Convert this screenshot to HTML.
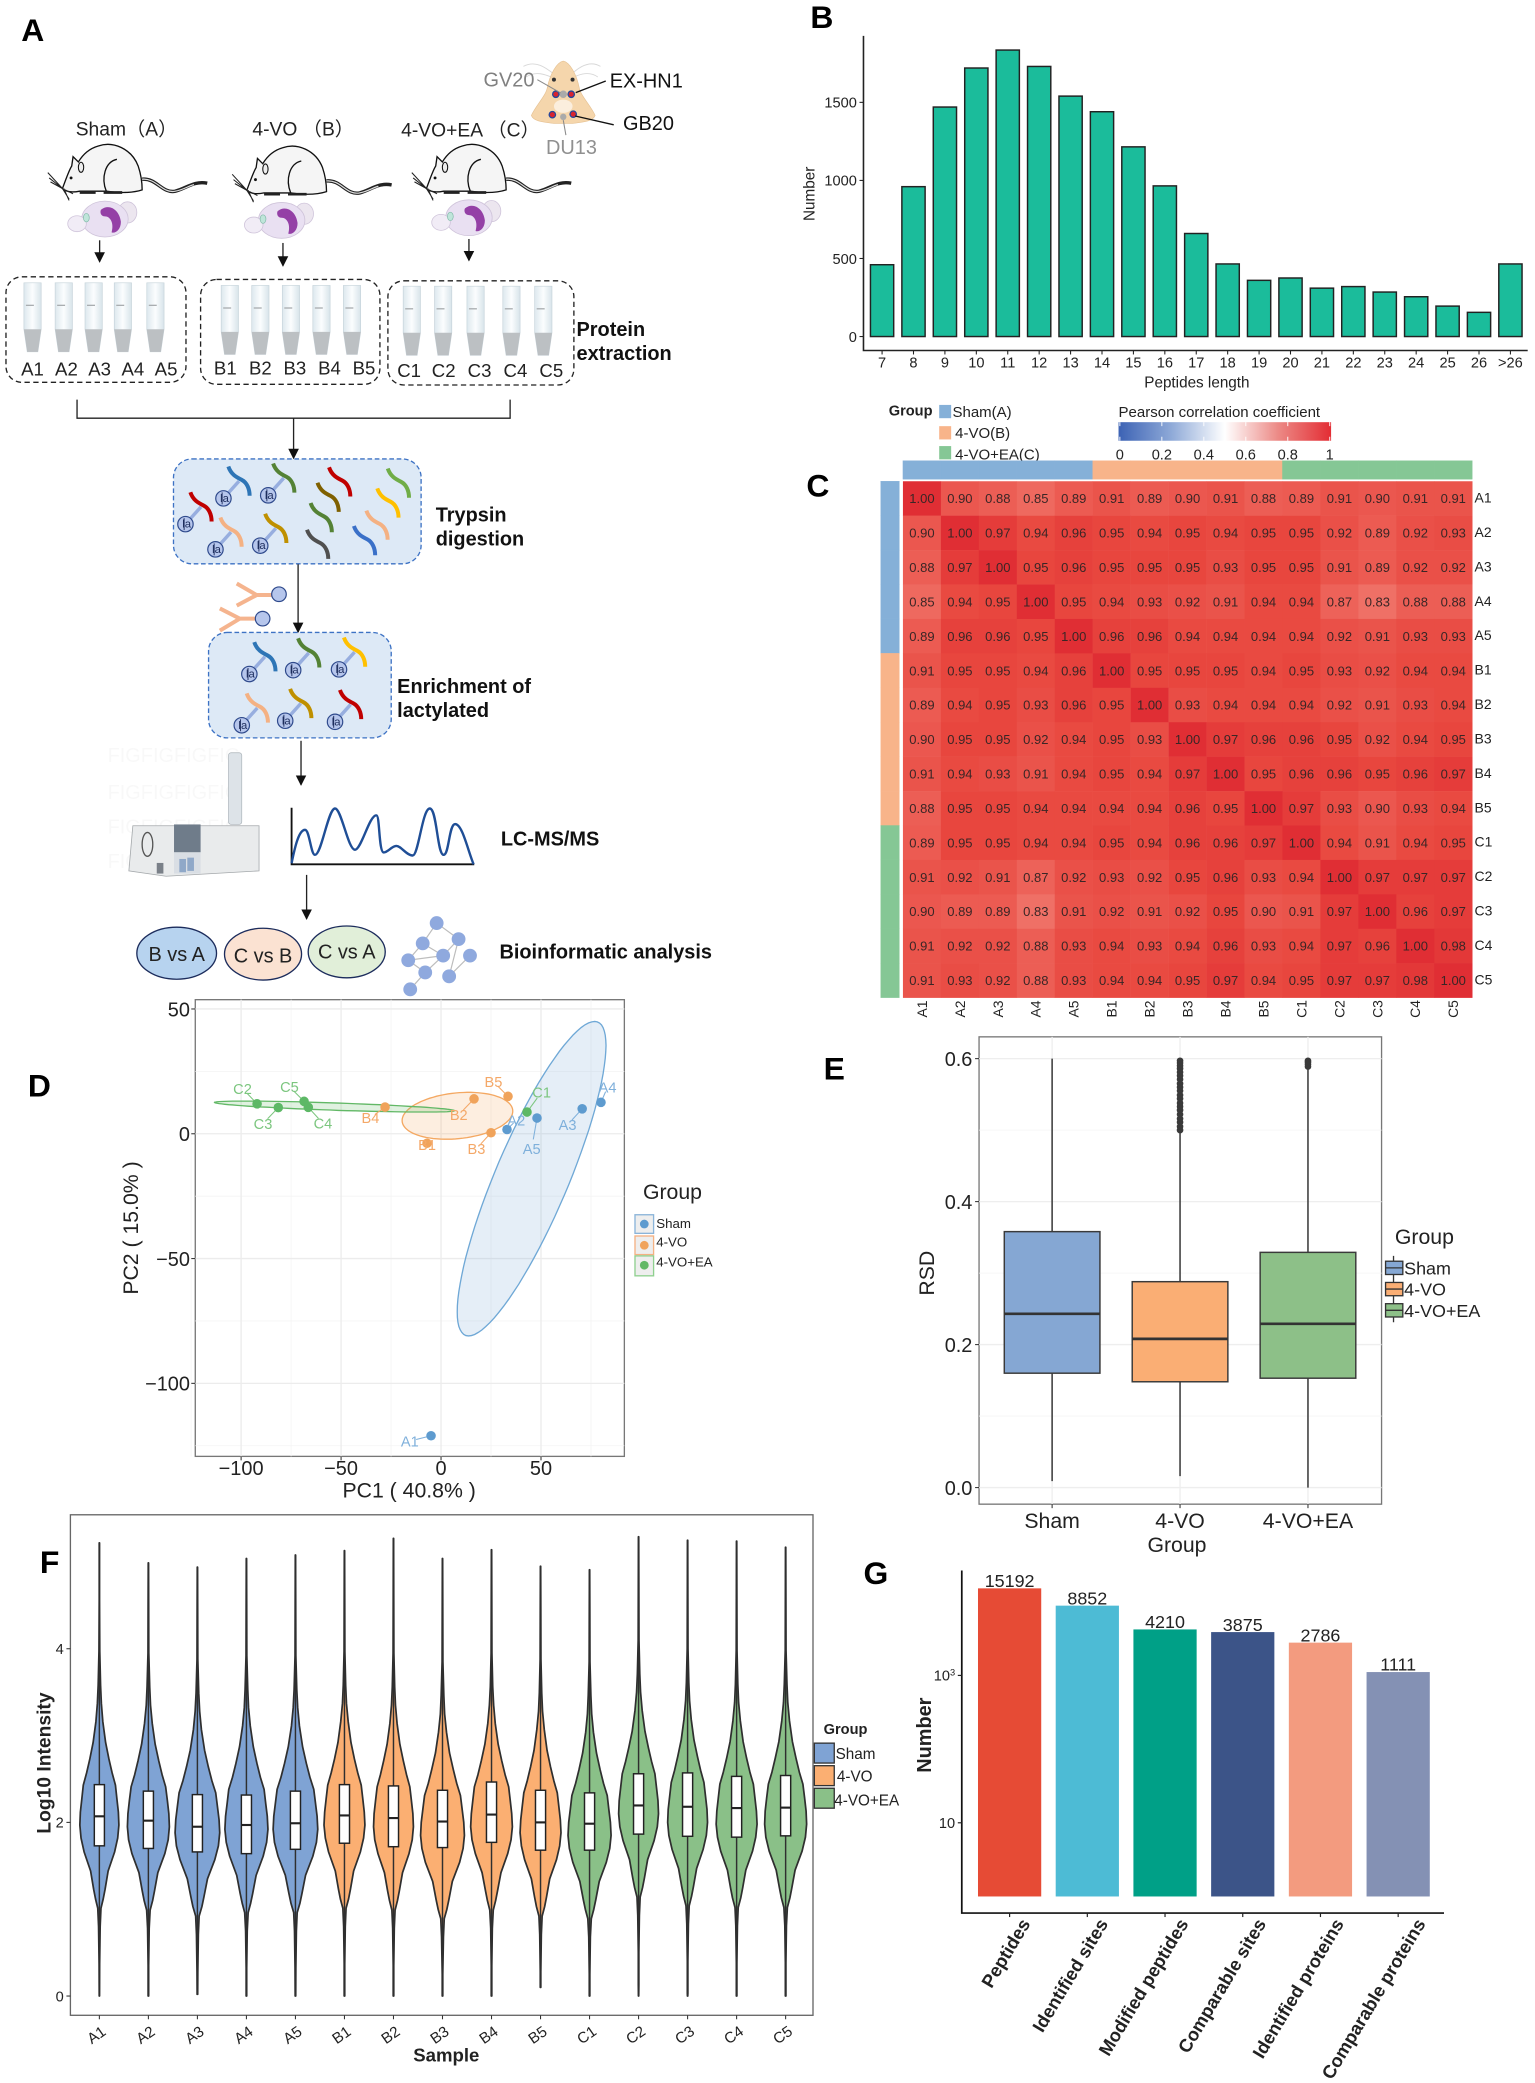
<!DOCTYPE html>
<html lang="en">
<head>
<meta charset="utf-8">
<title>Lactylated proteomics workflow and quality control figure</title>
<style>
html,body{margin:0;padding:0;background:#fff}
svg{display:block}
text{font-family:"Liberation Sans","Noto Sans CJK SC",sans-serif;fill:#222}
.plab{font-size:24px;font-weight:bold;fill:#000}
.step{font-size:15px;font-weight:bold;fill:#111}
.hdr{font-size:14.5px;fill:#222}
.tube-l{font-size:14px;text-anchor:middle;fill:#222}
.dash{fill:none;stroke:#222;stroke-width:1;stroke-dasharray:4 2.6}
.flow{stroke:#222;stroke-width:1;fill:none;marker-end:url(#arrowhead)}
.la{font-size:8.5px;text-anchor:middle;fill:#1c2c5c}
.pc{fill:#B6C6EC;stroke:#2F4A8C;stroke-width:.9}
</style>
</head>
<body>
<svg id="figure" xmlns="http://www.w3.org/2000/svg" width="1535" height="2083" viewBox="0 0 1155.5 1569" preserveAspectRatio="none">
<defs>
<marker id="arrowhead" markerUnits="userSpaceOnUse" markerWidth="9" markerHeight="11" refX="7" refY="5" orient="auto"><path d="M0 1 L8 5 L0 9 Z" fill="#111"/></marker>
<linearGradient id="tubeFill" x1="0" x2="1" y1="0" y2="0"><stop offset="0" stop-color="#dde8ee"/><stop offset=".5" stop-color="#fbfdfe"/><stop offset="1" stop-color="#d8e4ea"/></linearGradient>
<linearGradient id="pearsonGrad" x1="0" x2="1" y1="0" y2="0"><stop offset="0" stop-color="#3C62B4"/><stop offset=".25" stop-color="#8FAAD8"/><stop offset=".5" stop-color="#ffffff"/><stop offset=".75" stop-color="#EC8A86"/><stop offset="1" stop-color="#E32D34"/></linearGradient>
<g id="tube"><path d="M-6.500 0 L6.500 0 L6.500 35 L4 52 L-4 52 L-6.500 35 Z" fill="url(#tubeFill)" stroke="#c6d3da" stroke-width=".5"/><path d="M-6.500 35 L6.500 35 L4 52 L-4 52 Z" fill="#bcc0c3"/><path d="M-5 17 L1 17" stroke="#a9adb0" stroke-width="1"/></g>
<g id="rat">
<path d="M107 135 C118 134,122 146,132 144 C140 142,146 136,156 138" fill="none" stroke="#222" stroke-width="2.600"/>
<path d="M107 135 C118 134,122 146,132 144 C138 143,142 140,146 139" fill="none" stroke="#ddd" stroke-width=".9"/>
<path d="M47 142 C50 134,52 128,54 125 L55 118 L59 122 C62 117,67 112,74 110 C85 106,99 112,104 125 C106 131,107 138,107 143 C98 146,86 145,80 144 L60 144 C55 145,50 145,47 142 Z" fill="#f5f5f5" stroke="#111" stroke-width="1"/>
<path d="M80 144 C76 134,79 122,88 120" fill="none" stroke="#111" stroke-width="1"/>
<ellipse cx="61" cy="126" rx="2" ry="3.800" fill="#ededed" stroke="#111" stroke-width=".8"/>
<circle cx="53.500" cy="134" r="1.100" fill="#111"/>
<path d="M60 145 L72 145 M78 145 L92 145" stroke="#222" stroke-width="2"/>
<path d="M47 142 L36 130 M47 142 L37 134 M47 142 L38 137 M47 142 L52 150 M48 142 L52 151 M49 143 L55 146" stroke="#222" stroke-width=".8"/>
</g>
<g id="brain">
<ellipse cx="96" cy="160" rx="7" ry="8" fill="#ece6ef" stroke="#cfc4da" stroke-width=".6"/>
<ellipse cx="79" cy="165" rx="17.500" ry="13.500" fill="#e9e0f2" stroke="#cfc4da" stroke-width=".6"/>
<ellipse cx="58" cy="168.500" rx="7" ry="6" fill="#f1ecf6" stroke="#cfc4da" stroke-width=".6"/>
<path d="M76 158 C82 153,90 158,91 167 C91 173,87 176,84 175 C86 168,83 163,79 163 C76 163,75 160,76 158 Z" fill="#9440A6"/>
<ellipse cx="65" cy="164" rx="2.200" ry="3.200" fill="#bfe5da" stroke="#7fb9a7" stroke-width=".5"/>
</g>
<g id="pep"><path d="M0 0 C2 6,6 8,10 10 C14 12,16 17,16 22" fill="none" stroke="currentColor" stroke-width="3" stroke-linecap="butt"/></g>
<g id="pepla"><path d="M8 11 L-3.700 24" stroke="#97AEDF" stroke-width="2.600"/><use href="#pep"/><circle class="pc" cx="-3.700" cy="24" r="5.800"/><path d="M-4.700 19.500 L-4.700 28.500" stroke="#1c2c5c" stroke-width=".7"/></g>
</defs>
<rect x="0" y="0" width="1158" height="1572" fill="#fff"/>

<g id="panel-a">
<text class="plab" x="16" y="31">A</text>
<text class="hdr" x="57" y="102">Sham（A）</text>
<text class="hdr" x="190" y="102">4-VO （B）</text>
<text class="hdr" x="302" y="103">4-VO+EA （C）</text>

<g>
<path d="M394 50 C405 44,414 54,420 58 M452 50 C442 44,432 54,428 58 M396 58 C405 52,414 58,420 60 M450 58 C442 52,432 58,428 60" fill="none" stroke="#d8d8d8" stroke-width=".7"/>
<path d="M424 46 C429 47,434 56,436 66 C437 72,445 80,448 87 C446 92,437 92,431 93 L417 93 C411 92,402 92,400 87 C403 80,411 72,412 66 C414 56,419 47,424 46 Z" fill="#F5D6AC" stroke="#e6c294" stroke-width=".5"/>
<ellipse cx="424" cy="80" rx="7" ry="5" fill="#fbeedd"/>
<circle cx="417" cy="60" r="1.500" fill="#333"/><circle cx="431" cy="60" r="1.500" fill="#333"/>
<circle cx="424" cy="71" r="2.800" fill="#aaa"/><circle cx="424" cy="88" r="2.400" fill="#aaa"/>
<circle cx="418.400" cy="71" r="2.400" fill="#D9232E" stroke="#24479c" stroke-width="1"/><circle cx="430" cy="71" r="2.400" fill="#D9232E" stroke="#24479c" stroke-width="1"/>
<circle cx="415.800" cy="86.400" r="2.400" fill="#D9232E" stroke="#24479c" stroke-width="1"/><circle cx="431.500" cy="86" r="2.400" fill="#D9232E" stroke="#24479c" stroke-width="1"/>
<path d="M404.500 60 L422 70 M424 90.500 L426 101.800" stroke="#8a8a8a" stroke-width=".8"/>
<path d="M433.400 69.800 L456 61 M433 87.400 L462 94" stroke="#111" stroke-width="1"/>
<text x="364" y="65" font-size="15" style="fill:#808080">GV20</text>
<text x="459" y="66" font-size="15" style="fill:#111">EX-HN1</text>
<text x="469" y="98" font-size="15" style="fill:#111">GB20</text>
<text x="411" y="116" font-size="15" style="fill:#909090">DU13</text>
</g>

<use href="#rat"/>
<use href="#rat" transform="translate(138.800 1.300)"/>
<use href="#rat" transform="translate(274 0)"/>
<use href="#brain"/>
<use href="#brain" transform="translate(133 1)"/>
<use href="#brain" transform="translate(274 -1)"/>
<path class="flow" d="M75 181 V197"/>
<path class="flow" d="M213 183 V200"/>
<path class="flow" d="M353 180 V196"/>

<rect class="dash" x="4.500" y="208.500" width="135.500" height="79.500" rx="12"/>
<rect class="dash" x="151" y="210.500" width="135" height="79" rx="12"/>
<rect class="dash" x="292" y="211.500" width="140" height="78.500" rx="12"/>
<g>
<use href="#tube" x="24.500" y="213"/><use href="#tube" x="48" y="213"/><use href="#tube" x="70.500" y="213"/><use href="#tube" x="92.500" y="213"/><use href="#tube" x="117" y="213"/>
<use href="#tube" x="173" y="215"/><use href="#tube" x="196" y="215"/><use href="#tube" x="219" y="215"/><use href="#tube" x="242" y="215"/><use href="#tube" x="265" y="215"/>
<use href="#tube" x="310" y="215.600"/><use href="#tube" x="333.600" y="215.600"/><use href="#tube" x="358" y="215.600"/><use href="#tube" x="385" y="215.600"/><use href="#tube" x="409" y="215.600"/>
</g>
<g>
<text class="tube-l" x="24.500" y="283">A1</text><text class="tube-l" x="50" y="283">A2</text><text class="tube-l" x="75" y="283">A3</text><text class="tube-l" x="100" y="283">A4</text><text class="tube-l" x="125" y="283">A5</text>
<text class="tube-l" x="169.600" y="282">B1</text><text class="tube-l" x="196" y="282">B2</text><text class="tube-l" x="222" y="282">B3</text><text class="tube-l" x="248" y="282">B4</text><text class="tube-l" x="274" y="282">B5</text>
<text class="tube-l" x="308" y="284">C1</text><text class="tube-l" x="334" y="284">C2</text><text class="tube-l" x="361" y="284">C3</text><text class="tube-l" x="388" y="284">C4</text><text class="tube-l" x="415" y="284">C5</text>
</g>
<text class="step" x="434" y="253">Protein</text>
<text class="step" x="434" y="271">extraction</text>

<path d="M58 301 V315 H384 V301" fill="none" stroke="#222" stroke-width="1"/>
<path class="flow" d="M221 315 V345"/>

<rect x="130.600" y="345.700" width="186.400" height="79" rx="14" fill="#DDE9F6" stroke="#3D72C4" stroke-width="1" stroke-dasharray="3.500 2"/>
<g>
<use href="#pepla" x="143.300" y="370.800" color="#C00000"/><use href="#pepla" x="171.900" y="351.400" color="#2E75B6"/><use href="#pepla" x="205.600" y="349.100" color="#548235"/><use href="#pepla" x="165.900" y="389.800" color="#F4B183"/><use href="#pepla" x="199.600" y="387" color="#BF9000"/>
<use href="#pep" x="247.700" y="352" color="#C00000"/><use href="#pep" x="239" y="363.600" color="#7F6000"/><use href="#pep" x="291.900" y="352.900" color="#70AD47"/><use href="#pep" x="284" y="367.900" color="#FFC000"/><use href="#pep" x="233.800" y="378.900" color="#548235"/><use href="#pep" x="275.800" y="384.600" color="#F4B183"/><use href="#pep" x="231.100" y="399" color="#505050"/><use href="#pep" x="266.400" y="396.200" color="#3A70C8"/>
<text class="la" x="140.500" y="397.500">la</text><text class="la" x="169" y="378">la</text><text class="la" x="202.700" y="375.800">la</text><text class="la" x="163" y="416.500">la</text><text class="la" x="196.700" y="413.700">la</text>
</g>
<text class="step" x="328" y="393">Trypsin</text>
<text class="step" x="328" y="411">digestion</text>

<g>
<path d="M178.200 439.500 L193.200 448.200 L178.200 456.200 M193.200 448.200 H205.300" fill="none" stroke="#F5B48E" stroke-width="3"/><circle class="pc" cx="210" cy="447.600" r="5.500"/>
<path d="M165.500 458.300 L180.500 466 L165.500 475 M180.500 466 H192.500" fill="none" stroke="#F5B48E" stroke-width="3"/><circle class="pc" cx="197.700" cy="466" r="5.500"/>
</g>
<path class="flow" d="M224.400 425 V476"/>

<rect x="157" y="476.400" width="137.500" height="79.400" rx="14" fill="#DDE9F6" stroke="#3D72C4" stroke-width="1" stroke-dasharray="3.500 2"/>
<g>
<use href="#pepla" x="191.400" y="483.700" color="#2E75B6"/><use href="#pepla" x="224.400" y="480.800" color="#548235"/><use href="#pepla" x="258.900" y="480.200" color="#FFC000"/><use href="#pepla" x="185.700" y="522.300" color="#F4B183"/><use href="#pepla" x="218.400" y="518.900" color="#BF9000"/><use href="#pepla" x="255.900" y="519.700" color="#C00000"/>
<text class="la" x="188.500" y="510.400">la</text><text class="la" x="221.500" y="507.500">la</text><text class="la" x="256" y="506.900">la</text><text class="la" x="182.800" y="549">la</text><text class="la" x="215.500" y="545.600">la</text><text class="la" x="253" y="546.400">la</text>
</g>
<text class="step" x="299" y="522">Enrichment of</text>
<text class="step" x="299" y="540">lactylated</text>
<path class="flow" d="M226.600 558 V591"/>

<g font-size="15" style="opacity:.025">
<text x="81" y="574">FIGFIGFIGFIG</text><text x="81" y="602">FIGFIGFIGFIG</text><text x="81" y="628">FIGFIGFIGFIG</text><text x="81" y="654">FIGFIGFIGFIG</text>
</g>
<g>
<rect x="172" y="567" width="10" height="54" rx="2" fill="#DDE3E8" stroke="#aab2b8" stroke-width=".5"/>
<path d="M100 622 H195 V656 L125 660 L97 656 Z" fill="#E9EBEC" stroke="#a4a8ab" stroke-width=".6"/>
<rect x="131" y="621" width="20" height="21" fill="#6F7C8A"/>
<rect x="131" y="642" width="20" height="16" fill="#D9DEE4"/>
<rect x="135" y="647" width="5" height="10" fill="#8FA8C8"/><rect x="141" y="646" width="5" height="10" fill="#8FA8C8"/>
<ellipse cx="111" cy="636" rx="4" ry="9" fill="none" stroke="#555" stroke-width="1"/>
<rect x="118" y="650" width="5" height="8" fill="#7a8088"/>
</g>
<path d="M219.500 608.400 V651 H357" fill="none" stroke="#111" stroke-width="1.400"/>
<path d="M219.500 650.200 C222 638,225 625,229.600 625.100 C233 625,234 644,237.100 643.900 C242 644,247 609,252.200 609 C257 609,262 640,267.200 640.100 C272 640,278 614,283.300 614.100 C286 614,285 642,288.900 642.100 C292 642,295 637.200,298.300 637.200 C302 637.200,306 644.400,310.700 644.400 C315 644.400,318 609,323.500 609 C329 609,329 643.900,334 643.900 C338 644,338 620.700,342.600 620.700 C348 620.700,352 640,356.500 651" fill="none" stroke="#1F4E96" stroke-width="1.800"/>
<text class="step" x="377" y="637">LC-MS/MS</text>
<path class="flow" d="M230.800 659 V692"/>

<ellipse cx="133" cy="718" rx="30" ry="19.600" fill="#B7D3EF" stroke="#1c2c5c" stroke-width="1"/>
<ellipse cx="198" cy="718.700" rx="29" ry="19.500" fill="#FBE2D2" stroke="#1c2c5c" stroke-width="1"/>
<ellipse cx="261" cy="717" rx="29" ry="19.500" fill="#E1EFD9" stroke="#1c2c5c" stroke-width="1"/>
<text x="133" y="724" font-size="15" text-anchor="middle">B vs A</text>
<text x="198" y="725" font-size="15" text-anchor="middle">C vs B</text>
<text x="261" y="722" font-size="15" text-anchor="middle">C vs A</text>
<g>
<path d="M328.700 695.300 L345.200 707.400 L333.600 719.800 L318.200 710.600 L307.300 723.300 L333.600 719.800 L320.100 732.500 L308.800 745.200 M345.200 707.400 L338.100 735.400 L353.800 719.800 M307.300 723.300 L320.100 732.500 M328.700 695.300 L318.200 710.600" fill="none" stroke="#bdbdbd" stroke-width=".9"/>
<circle cx="328.700" cy="695.300" r="5.200" fill="#8FA9DE"/><circle cx="345.200" cy="707.400" r="5.200" fill="#8FA9DE"/><circle cx="318.200" cy="710.600" r="5.200" fill="#8FA9DE"/><circle cx="333.600" cy="719.800" r="5.200" fill="#8FA9DE"/><circle cx="353.800" cy="719.800" r="5.200" fill="#8FA9DE"/><circle cx="307.300" cy="723.300" r="5.200" fill="#8FA9DE"/><circle cx="320.100" cy="732.500" r="5.200" fill="#8FA9DE"/><circle cx="338.100" cy="735.400" r="5.200" fill="#8FA9DE"/><circle cx="308.800" cy="745.200" r="5.200" fill="#8FA9DE"/>
</g>
<text class="step" x="376" y="722">Bioinformatic analysis</text>
</g>

<g id="panel-b">
<text class="plab" x="610" y="21">B</text>
<text transform="translate(613 146) rotate(-90)" font-size="11.500" text-anchor="middle">Number</text>
<text x="901" y="292" font-size="11.500" text-anchor="middle">Peptides length</text>
<path d="M650 27 V264 H1150" fill="none" stroke="#222" stroke-width="1.200"/>
</g>

<g id="panel-c">
<text class="plab" x="607" y="374">C</text>
<text x="669" y="313" font-size="11" font-weight="bold">Group</text>
<rect x="707" y="305" width="9" height="10" fill="#85B0D8"/>
<rect x="707" y="321" width="9" height="10" fill="#F8B48A"/>
<rect x="707" y="336" width="9" height="10" fill="#85C795"/>
<text x="717" y="314" font-size="11.300">Sham(A)</text>
<text x="719" y="330" font-size="11.300">4-VO(B)</text>
<text x="719" y="346" font-size="11.300">4-VO+EA(C)</text>
<text x="842" y="314" font-size="11.300">Pearson correlation coefficient</text>
<rect x="842" y="318" width="160" height="14" fill="url(#pearsonGrad)"/>
</g>

<g id="panel-d">
<text class="plab" x="21" y="826">D</text>
<text x="308" y="1128" font-size="16" text-anchor="middle">PC1 ( 40.8% )</text>
<text transform="translate(104 925) rotate(-90)" font-size="16" text-anchor="middle">PC2 ( 15.0% )</text>
<text x="484" y="903" font-size="16">Group</text>
<g>
<rect x="478" y="915" width="14" height="14" fill="#eee" stroke="#8ab4d9" stroke-width="1"/><circle cx="485" cy="922" r="3.300" fill="#5E9BCF"/>
<rect x="478" y="931" width="14" height="14" fill="#eee" stroke="#F4B183" stroke-width="1"/><circle cx="485" cy="938" r="3.300" fill="#F0A35B"/>
<rect x="478" y="946" width="14" height="15" fill="#eee" stroke="#8FD08F" stroke-width="1"/><circle cx="485" cy="953" r="3.300" fill="#62B866"/>
<text x="494" y="925" font-size="10">Sham</text><text x="494" y="939" font-size="10">4-VO</text><text x="494" y="954" font-size="10">4-VO+EA</text>
</g>
</g>

<g id="panel-e">
<text class="plab" x="620" y="813">E</text>
<text transform="translate(703 959) rotate(-90)" font-size="16" text-anchor="middle">RSD</text>
<text x="886" y="1169" font-size="16" text-anchor="middle">Group</text>
<text x="1050" y="937" font-size="16">Group</text>
<g stroke="#333" stroke-width="1">
<path d="M1049 946 V964 M1049 962 V980 M1049 978 V996" fill="none"/>
<rect x="1043" y="950" width="13" height="10" fill="#85A7D3"/><path d="M1043 955 H1056"/>
<rect x="1043" y="966" width="13" height="10" fill="#FAAE74"/><path d="M1043 971 H1056"/>
<rect x="1043" y="982" width="13" height="10" fill="#8DC088"/><path d="M1043 987 H1056"/>
</g>
<text x="1057" y="960" font-size="13.500">Sham</text>
<text x="1057" y="976" font-size="13.500">4-VO</text>
<text x="1057" y="992" font-size="13.500">4-VO+EA</text>
</g>

<g id="panel-f">
<text class="plab" x="30" y="1185">F</text>
<rect x="53" y="1141" width="559" height="377" fill="none" stroke="#666" stroke-width="1"/>
<text transform="translate(38 1328) rotate(-90)" font-size="14.500" font-weight="bold" text-anchor="middle">Log10 Intensity</text>
<text x="336" y="1553" font-size="14" font-weight="bold" text-anchor="middle">Sample</text>
<text x="620" y="1306" font-size="11" font-weight="bold">Group</text>
<g stroke="#333" stroke-width="1">
<rect x="613" y="1313" width="15" height="15" fill="#7FA3D4"/><rect x="613" y="1330" width="15" height="15" fill="#FBAF72"/><rect x="613" y="1347" width="15" height="15" fill="#8AC088"/>
</g>
<text x="629" y="1325" font-size="11.500">Sham</text>
<text x="630" y="1342" font-size="11.500">4-VO</text>
<text x="628" y="1360" font-size="11.500">4-VO+EA</text>
</g>

<g id="panel-g">
<text class="plab" x="650" y="1193">G</text>
<text transform="translate(701 1307) rotate(-90)" font-size="15" font-weight="bold" text-anchor="middle">Number</text>
<path d="M724 1183 V1441 H1087" fill="none" stroke="#111" stroke-width="1.300"/>
</g>
</svg>

<script>
/* ---------- Panel B data ---------- */
const peptideLengths = ['7','8','9','10','11','12','13','14','15','16','17','18','19','20','21','22','23','24','25','26','>26'];
const peptideCounts = [460,960,1470,1720,1835,1730,1540,1440,1215,965,660,465,360,375,310,320,285,255,195,155,465];
const peptideTicks = [0,500,1000,1500];

/* ---------- Panel C data ---------- */
const heatmapSamples = ['A1','A2','A3','A4','A5','B1','B2','B3','B4','B5','C1','C2','C3','C4','C5'];
const rowA1 = [1.00,0.90,0.88,0.85,0.89,0.91,0.89,0.90,0.91,0.88,0.89,0.91,0.90,0.91,0.91];
const rowA2 = [0.90,1.00,0.97,0.94,0.96,0.95,0.94,0.95,0.94,0.95,0.95,0.92,0.89,0.92,0.93];
const rowA3 = [0.88,0.97,1.00,0.95,0.96,0.95,0.95,0.95,0.93,0.95,0.95,0.91,0.89,0.92,0.92];
const rowA4 = [0.85,0.94,0.95,1.00,0.95,0.94,0.93,0.92,0.91,0.94,0.94,0.87,0.83,0.88,0.88];
const rowA5 = [0.89,0.96,0.96,0.95,1.00,0.96,0.96,0.94,0.94,0.94,0.94,0.92,0.91,0.93,0.93];
const rowB1 = [0.91,0.95,0.95,0.94,0.96,1.00,0.95,0.95,0.95,0.94,0.95,0.93,0.92,0.94,0.94];
const rowB2 = [0.89,0.94,0.95,0.93,0.96,0.95,1.00,0.93,0.94,0.94,0.94,0.92,0.91,0.93,0.94];
const rowB3 = [0.90,0.95,0.95,0.92,0.94,0.95,0.93,1.00,0.97,0.96,0.96,0.95,0.92,0.94,0.95];
const rowB4 = [0.91,0.94,0.93,0.91,0.94,0.95,0.94,0.97,1.00,0.95,0.96,0.96,0.95,0.96,0.97];
const rowB5 = [0.88,0.95,0.95,0.94,0.94,0.94,0.94,0.96,0.95,1.00,0.97,0.93,0.90,0.93,0.94];
const rowC1 = [0.89,0.95,0.95,0.94,0.94,0.95,0.94,0.96,0.96,0.97,1.00,0.94,0.91,0.94,0.95];
const rowC2 = [0.91,0.92,0.91,0.87,0.92,0.93,0.92,0.95,0.96,0.93,0.94,1.00,0.97,0.97,0.97];
const rowC3 = [0.90,0.89,0.89,0.83,0.91,0.92,0.91,0.92,0.95,0.90,0.91,0.97,1.00,0.96,0.97];
const rowC4 = [0.91,0.92,0.92,0.88,0.93,0.94,0.93,0.94,0.96,0.93,0.94,0.97,0.96,1.00,0.98];
const rowC5 = [0.91,0.93,0.92,0.88,0.93,0.94,0.94,0.95,0.97,0.94,0.95,0.97,0.97,0.98,1.00];
const colorbarTicks = [0,0.2,0.4,0.6,0.8,1];

/* ---------- Panel D data ---------- */
const pcaSamples = ['A1','A2','A3','A4','A5','B1','B2','B3','B4','B5','C1','C2','C3','C4','C5'];
const pc1Values = [-5,33,70.6,80,48,-7,16.5,25,-28,33.5,43,-92,-81.4,-66.4,-68.5];
const pc2Values = [-121,1.7,10,12.6,6.3,-3.8,14,0.4,10.7,15,8.7,12,10.5,10.6,13];
const pcaXTicks = [-100,-50,0,50];
const pcaYTicks = [50,0,-50,-100];
const pcaXMinor = [-125,-75,-25,25,75];
const pcaYMinor = [25,-25,-75,-125];
const ellipseGroups = ['Sham','4-VO','4-VO+EA'];
const ellipseMeanPC1 = [45.3,8.2,-53.3];
const ellipseMeanPC2 = [-18,7.2,10.9];
const ellipseSpreadPC1 = [37.2,27.7,60];
const ellipseSpreadPC2 = [63,9.4,2.2];
const ellipseCorrelation = [0.847,0.2,-0.75];

/* ---------- Panel E data ---------- */
const rsdGroups = ['Sham','4-VO','4-VO+EA'];
const rsdLow = [0.009,0.016,0];
const rsdQ1 = [0.160,0.148,0.153];
const rsdMedian = [0.243,0.208,0.229];
const rsdQ3 = [0.358,0.288,0.329];
const rsdHigh = [0.600,0.497,0.585];
const rsdOutliersFourVO = [0.500,0.505,0.511,0.516,0.522,0.528,0.533,0.538,0.544,0.549,0.555,0.560,0.565,0.571,0.576,0.581,0.586,0.590,0.594,0.597];
const rsdOutliersFourVOEA = [0.589,0.592,0.595,0.597];
const rsdTicks = [0,0.2,0.4,0.6];
const rsdMinorTicks = [0.1,0.3,0.5];

/* ---------- Panel F data ---------- */
const violinSamples = ['A1','A2','A3','A4','A5','B1','B2','B3','B4','B5','C1','C2','C3','C4','C5'];
const violinLow = [0,0,0.02,0,0,0,0,0,0,0.10,0,0,0,0,0];
const violinHigh = [5.22,4.99,4.94,5.04,5.08,5.13,5.27,5.04,5.14,4.95,4.91,5.29,5.25,5.24,5.17];
const violinQ1 = [1.73,1.70,1.66,1.64,1.69,1.76,1.72,1.71,1.77,1.68,1.68,1.865,1.84,1.83,1.845];
const violinMedian = [2.07,2.02,1.95,1.97,1.99,2.08,2.05,2.01,2.09,2.00,1.985,2.195,2.18,2.165,2.17];
const violinQ3 = [2.435,2.36,2.32,2.315,2.36,2.435,2.42,2.37,2.465,2.37,2.34,2.56,2.57,2.53,2.54];
const violinMode = [1.97,1.95,1.88,1.92,1.92,1.97,1.95,1.85,1.95,1.88,1.85,2.10,2.00,1.98,1.98];
const violinPeakDensity = [0.92,0.99,1.05,1.01,1.05,0.96,0.94,1.03,0.98,0.96,1.01,0.94,0.94,0.96,0.99];
const densityOffsets = [-2.2,-1.97,-1.6,-1.17,-0.96,-0.85,-0.74,-0.53,-0.31,-0.15,0,0.15,0.3,0.46,0.6,0.76,0.95,1.19,1.4,1.61,2.0,2.6,3.4];
const densityShares = [0.005,0.01,0.015,0.04,0.08,0.2,0.29,0.45,0.78,0.94,1,0.97,0.9,0.82,0.65,0.49,0.32,0.18,0.1,0.06,0.02,0.01,0.005];
const violinTicks = [0,2,4];

/* ---------- Panel G data ---------- */
const identificationCategories = ['Peptides','Identified sites','Modified peptides','Comparable sites','Identified proteins','Comparable proteins'];
const identificationCounts = [15192,8852,4210,3875,2786,1111];
const identificationTickValues = [10,1000];

const SVG_NS = 'http://www.w3.org/2000/svg';
function make(parent, tag, attrs, text) {
  const node = document.createElementNS(SVG_NS, tag);
  for (const key in attrs) node.setAttribute(key, attrs[key]);
  if (text !== undefined) node.textContent = text;
  parent.appendChild(node);
  return node;
}
function groupFill(name, blue, orange, green) {
  return name[0] === 'A' ? blue : name[0] === 'B' ? orange : green;
}

/* ---------- Panel B ---------- */
(function () {
  const g = document.getElementById('panel-b');
  const xB = i => 664 + i * 23.65;
  const yB = v => 253.5 - v * 0.1176;
  peptideCounts.forEach((v, i) => {
    const bar = make(g, 'rect', { x: xB(i) - 8.75, y: yB(v), width: 17.5, height: yB(0) - yB(v), fill: '#1BBC9B', stroke: '#222', 'stroke-width': 1.1 });
    
    
    const tick = make(g, 'line', { x1: xB(i), x2: xB(i), y1: 264, y2: 267, stroke: '#222', 'stroke-width': 0.8 });
    
    
    const lab = make(g, 'text', { x: xB(i), y: 277, 'font-size': 11, 'text-anchor': 'middle' }, peptideLengths[i]);
    
    
  });
  peptideTicks.forEach(v => {
    const tick = make(g, 'line', { x1: 647, x2: 650, y1: yB(v), y2: yB(v), stroke: '#222', 'stroke-width': 0.8 });
    
    
    const lab = make(g, 'text', { x: 645, y: yB(v) + 4, 'font-size': 11, 'text-anchor': 'end' }, String(v));
    
    
  });
})();

/* ---------- Panel C ---------- */
(function () {
  const g = document.getElementById('panel-c');
  const matrix = [rowA1,rowA2,rowA3,rowA4,rowA5,rowB1,rowB2,rowB3,rowB4,rowB5,rowC1,rowC2,rowC3,rowC4,rowC5];
  const xC = i => 679.7 + i * 28.57;
  const yC = i => 362.5 + i * 25.93;
  const mix = (a, b, t) => a.map((c, k) => Math.round(c + (b[k] - c) * t));
  function heatColor(v) {
    const hi = [224,46,52], mid = [232,70,62], lo = [239,112,102];
    const c = v >= 0.95 ? mix(mid, hi, (v - 0.95) / 0.05) : mix(lo, mid, Math.max(0, (v - 0.83) / 0.12));
    return 'rgb(' + c.join(',') + ')';
  }
  heatmapSamples.forEach((name, i) => {
    const fill = groupFill(name, '#85B0D8', '#F8B48A', '#85C795');
    const top = make(g, 'rect', { x: xC(i), y: 347, width: 28.57, height: 14, fill: fill, stroke: fill, 'stroke-width': 0.3 });
    
    
    const left = make(g, 'rect', { x: 663, y: yC(i), width: 14, height: 25.93, fill: fill, stroke: fill, 'stroke-width': 0.3 });
    
    
    const rowLab = make(g, 'text', { x: 1110, y: yC(i) + 16, 'font-size': 10.5 }, name);
    
    
    const colLab = make(g, 'text', { transform: 'translate(' + (xC(i) + 18) + ' 760) rotate(-90)', 'font-size': 10.5, 'text-anchor': 'middle' }, name);
    
    
  });
  matrix.forEach((row, r) => {
    row.forEach((v, c) => {
      const cell = make(g, 'rect', { x: xC(c), y: yC(r), width: 28.77, height: 26.13, fill: heatColor(v) });
      
      
      const val = make(g, 'text', { x: xC(c) + 14.3, y: yC(r) + 16.5, 'font-size': 9.8, 'text-anchor': 'middle' }, v.toFixed(2));
      val.style.fill = '#3a2626';
      
      
    });
  });
  const xBar = v => 843 + v * 158;
  colorbarTicks.forEach(v => {
    const tick = make(g, 'line', { x1: xBar(v), x2: xBar(v), y1: 318, y2: 332, stroke: '#fff', 'stroke-width': 0.7, 'stroke-dasharray': '3 8' });
    
    
    const lab = make(g, 'text', { x: xBar(v), y: 346, 'font-size': 11, 'text-anchor': 'middle' }, String(v));
    
    
  });
})();

/* ---------- Panel D ---------- */
(function () {
  const g = document.getElementById('panel-d');
  const xD = v => 332 + v * 1.505;
  const yD = v => 854 - v * 1.88;
  const labelOffsetX = { A1:-16,A2:7,A3:-11,A4:5,A5:-4,B1:0,B2:-11.5,B3:-11,B4:-11,B5:-11,C1:11,C2:-11,C3:-11.5,C4:11,C5:-11 };
  const labelOffsetY = { A1:4,A2:-7,A3:12,A4:-11.5,A5:23,B1:1,B2:12,B3:12,B4:8,B5:-11,C1:-15,C2:-11.5,C3:12,C4:12,C5:-11 };
  const border = make(g, 'rect', { x: 147, y: 753, width: 323, height: 344, fill: '#fff', stroke: '#777', 'stroke-width': 1 });
  
  
  pcaXMinor.forEach(v => {
    const l = make(g, 'line', { x1: xD(v), x2: xD(v), y1: 753, y2: 1097, stroke: '#f4f4f4', 'stroke-width': 0.6 });
    
    
  });
  pcaYMinor.forEach(v => {
    const l = make(g, 'line', { x1: 147, x2: 470, y1: yD(v), y2: yD(v), stroke: '#f4f4f4', 'stroke-width': 0.6 });
    
    
  });
  pcaXTicks.forEach(v => {
    const l = make(g, 'line', { x1: xD(v), x2: xD(v), y1: 753, y2: 1097, stroke: '#ececec', 'stroke-width': 1 });
    
    
    const t = make(g, 'line', { x1: xD(v), x2: xD(v), y1: 1097, y2: 1100, stroke: '#333', 'stroke-width': 0.8 });
    
    
    const lab = make(g, 'text', { x: xD(v), y: 1111, 'font-size': 15, 'text-anchor': 'middle' }, String(v).replace('-', '\u2212'));
    
    
  });
  pcaYTicks.forEach(v => {
    const l = make(g, 'line', { x1: 147, x2: 470, y1: yD(v), y2: yD(v), stroke: '#ececec', 'stroke-width': 1 });
    
    
    const t = make(g, 'line', { x1: 144, x2: 147, y1: yD(v), y2: yD(v), stroke: '#333', 'stroke-width': 0.8 });
    
    
    const lab = make(g, 'text', { x: 143, y: yD(v) + 5.5, 'font-size': 15, 'text-anchor': 'end' }, String(v).replace('-', '\u2212'));
    
    
  });
  const ellipseStroke = ['#6FA8D6','#F4A862','#62B866'];
  const ellipseFill = ['rgba(124,172,216,.2)','rgba(244,168,98,.2)','rgba(98,184,102,.2)'];
  ellipseGroups.forEach((name, i) => {
    const pts = [];
    for (let k = 0; k < 90; k++) {
      const t = k / 90 * 2 * Math.PI;
      const rho = ellipseCorrelation[i];
      const px = ellipseMeanPC1[i] + ellipseSpreadPC1[i] * Math.cos(t);
      const py = ellipseMeanPC2[i] + ellipseSpreadPC2[i] * (rho * Math.cos(t) + Math.sqrt(1 - rho * rho) * Math.sin(t));
      pts.push(xD(px).toFixed(1) + ',' + yD(py).toFixed(1));
    }
    const poly = make(g, 'polygon', { points: pts.join(' '), fill: ellipseFill[i], stroke: ellipseStroke[i], 'stroke-width': 1 });
    
    
  });
  pcaSamples.forEach((name, i) => {
    const col = groupFill(name, '#5E9BCF', '#F0A35B', '#5DB866');
    const textCol = groupFill(name, '#7FB0DB', '#F4A868', '#7CC67F');
    const px = xD(pc1Values[i]), py = yD(pc2Values[i]);
    const lx = px + labelOffsetX[name], ly = py + labelOffsetY[name];
    const leader = make(g, 'line', { x1: px, y1: py, x2: lx + (px - lx) * 0.3, y2: ly + (py - ly) * 0.3, stroke: textCol, 'stroke-width': 0.8 });
    
    
    const dot = make(g, 'circle', { cx: px, cy: py, r: 3.6, fill: col });
    
    
    const lab = make(g, 'text', { x: lx, y: ly + 4, 'font-size': 11, 'text-anchor': 'middle' }, name);
    lab.style.fill = textCol;
    
    
  });
})();

/* ---------- Panel E ---------- */
(function () {
  const g = document.getElementById('panel-e');
  const xE = i => 792 + i * 96.3;
  const yE = v => 1120.5 - v * 538.5;
  const border = make(g, 'rect', { x: 737, y: 781, width: 303, height: 352, fill: '#fff', stroke: '#777', 'stroke-width': 1 });
  
  
  rsdMinorTicks.forEach(v => {
    const l = make(g, 'line', { x1: 737, x2: 1040, y1: yE(v), y2: yE(v), stroke: '#f5f5f5', 'stroke-width': 0.6 });
    
    
  });
  rsdTicks.forEach(v => {
    const l = make(g, 'line', { x1: 737, x2: 1040, y1: yE(v), y2: yE(v), stroke: '#eeeeee', 'stroke-width': 1 });
    
    
    const t = make(g, 'line', { x1: 734, x2: 737, y1: yE(v), y2: yE(v), stroke: '#333', 'stroke-width': 0.8 });
    
    
    const lab = make(g, 'text', { x: 732, y: yE(v) + 5.5, 'font-size': 15, 'text-anchor': 'end' }, v.toFixed(1));
    
    
  });
  const fills = ['#85A7D3','#FAAE74','#8DC088'];
  rsdGroups.forEach((name, i) => {
    const cx = xE(i);
    const gl = make(g, 'line', { x1: cx, x2: cx, y1: 781, y2: 1133, stroke: '#eeeeee', 'stroke-width': 1 });
    
    
    const w = make(g, 'line', { x1: cx, x2: cx, y1: yE(rsdHigh[i]), y2: yE(rsdLow[i]), stroke: '#333', 'stroke-width': 1.1 });
    
    
    const box = make(g, 'rect', { x: cx - 36, y: yE(rsdQ3[i]), width: 72, height: yE(rsdQ1[i]) - yE(rsdQ3[i]), fill: fills[i], stroke: '#3a3a3a', 'stroke-width': 1.1 });
    
    
    const med = make(g, 'line', { x1: cx - 36, x2: cx + 36, y1: yE(rsdMedian[i]), y2: yE(rsdMedian[i]), stroke: '#333', 'stroke-width': 2 });
    
    
    const t = make(g, 'line', { x1: cx, x2: cx, y1: 1133, y2: 1136, stroke: '#333', 'stroke-width': 0.8 });
    
    
    const lab = make(g, 'text', { x: cx, y: 1151, 'font-size': 16, 'text-anchor': 'middle' }, name);
    
    
  });
  [[1, rsdOutliersFourVO], [2, rsdOutliersFourVOEA]].forEach(pair => {
    pair[1].forEach(v => {
      const o = make(g, 'circle', { cx: xE(pair[0]), cy: yE(v), r: 2.5, fill: '#3a3a3a' });
      
      
    });
  });
})();

/* ---------- Panel F ---------- */
(function () {
  const g = document.getElementById('panel-f');
  const xF = i => 74.8 + i * 36.9;
  const yF = v => 1503.5 - v * 65.4;
  const wF = d => d * 16;
  function shareAt(offset) {
    if (offset <= densityOffsets[0]) return densityShares[0];
    for (let k = 1; k < densityOffsets.length; k++) {
      if (offset <= densityOffsets[k]) {
        const t = (offset - densityOffsets[k - 1]) / (densityOffsets[k] - densityOffsets[k - 1]);
        return densityShares[k - 1] + (densityShares[k] - densityShares[k - 1]) * t;
      }
    }
    return densityShares[densityShares.length - 1];
  }
  violinTicks.forEach(v => {
    const t = make(g, 'line', { x1: 50, x2: 53, y1: yF(v), y2: yF(v), stroke: '#333', 'stroke-width': 0.8 });
    
    
    const lab = make(g, 'text', { x: 48, y: yF(v) + 4, 'font-size': 11, 'text-anchor': 'end' }, String(v));
    
    
  });
  violinSamples.forEach((name, i) => {
    const cx = xF(i);
    const levels = [violinLow[i]];
    densityOffsets.forEach(o => {
      const lv = violinMode[i] + o;
      if (lv > violinLow[i] && lv < violinHigh[i]) levels.push(lv);
    });
    levels.push(violinHigh[i]);
    const half = levels.map(lv => wF(violinPeakDensity[i] * shareAt(lv - violinMode[i])));
    const left = levels.map((lv, k) => (cx - half[k]).toFixed(1) + ' ' + yF(lv).toFixed(1));
    const right = levels.map((lv, k) => (cx + half[k]).toFixed(1) + ' ' + yF(lv).toFixed(1)).reverse();
    const violin = make(g, 'path', { d: 'M' + left.concat(right).join(' L') + ' Z', fill: groupFill(name, '#7FA3D4', '#FBAF72', '#8AC088'), stroke: '#2f2f2f', 'stroke-width': 1.3, 'stroke-linejoin': 'round' });
    
    
    const whisk = make(g, 'line', { x1: cx, x2: cx, y1: yF(violinHigh[i]), y2: yF(violinLow[i]), stroke: '#2f2f2f', 'stroke-width': 1.1 });
    
    
    const box = make(g, 'rect', { x: cx - 3.8, y: yF(violinQ3[i]), width: 7.6, height: yF(violinQ1[i]) - yF(violinQ3[i]), fill: '#fff', stroke: '#222', 'stroke-width': 1.1 });
    
    
    const med = make(g, 'line', { x1: cx - 3.8, x2: cx + 3.8, y1: yF(violinMedian[i]), y2: yF(violinMedian[i]), stroke: '#222', 'stroke-width': 1.6 });
    
    
    const t = make(g, 'line', { x1: cx, x2: cx, y1: 1518, y2: 1521, stroke: '#333', 'stroke-width': 0.8 });
    
    
    const lab = make(g, 'text', { transform: 'translate(' + cx + ' 1536) rotate(-35)', 'font-size': 11.5, 'text-anchor': 'middle' }, name);
    
    
  });
})();

/* ---------- Panel G ---------- */
(function () {
  const g = document.getElementById('panel-g');
  const xG = i => 760 + i * 58.5;
  const yG = v => 1262 - (Math.log10(v) - 3) * 55.5;
  const colors = ['#E64B35','#4DBBD5','#00A087','#3C5488','#F39B7F','#8491B4'];
  const labelNudge = [-2,-2,0,0,0,3];
  identificationCounts.forEach((v, i) => {
    const bar = make(g, 'rect', { x: xG(i) - 23.8, y: yG(v), width: 47.6, height: yG(1) - yG(v), fill: colors[i] });
    
    
    const val = make(g, 'text', { x: xG(i), y: yG(v) - 1, 'font-size': 13.5, 'text-anchor': 'middle' }, String(v));
    
    
    const t = make(g, 'line', { x1: xG(i), x2: xG(i), y1: 1441, y2: 1444, stroke: '#222', 'stroke-width': 0.9 });
    
    
    const lab = make(g, 'text', { transform: 'translate(' + (xG(i) + 18 + labelNudge[i]) + ' 1449) rotate(-59)', 'font-size': 13.8, 'font-weight': 'bold', 'text-anchor': 'end' }, identificationCategories[i]);
    
    
  });
  identificationTickValues.forEach(v => {
    const t = make(g, 'line', { x1: 721, x2: 724, y1: yG(v), y2: yG(v), stroke: '#222', 'stroke-width': 0.9 });
    
    
    const exp = Math.log10(v);
    const lab = make(g, 'text', { x: 719, y: yG(v) + 4, 'font-size': 11, 'text-anchor': 'end' });
    
    
    lab.appendChild(document.createTextNode('10'));
    if (exp !== 1) {
      const sup = make(lab, 'tspan', { dy: -4, 'font-size': 7 }, String(exp));
      
      
    }
  });
})();
</script>
</body>
</html>
